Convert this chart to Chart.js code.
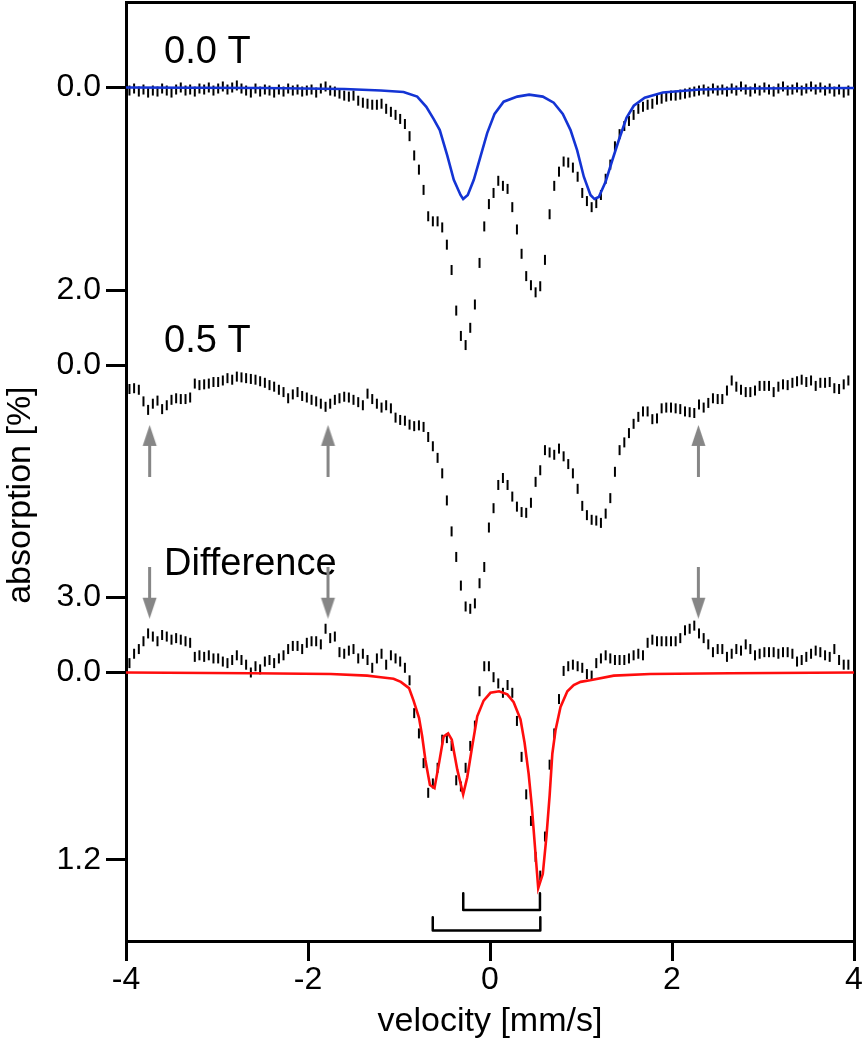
<!DOCTYPE html>
<html>
<head>
<meta charset="utf-8">
<script src="https://cdn.jsdelivr.net/npm/chart.js@4.4.1/dist/chart.umd.min.js"></script>
<style>html,body{margin:0;padding:0;background:#fff}canvas{display:block}</style>
</head>
<body>
<canvas id="c" width="863" height="1050"></canvas>
<script>
// ---------------- data (velocity in mm/s, absorption in %) ----------------
const velocity = [
-3.962,-3.911,-3.859,-3.808,-3.757,-3.705,-3.654,-3.603,-3.552,-3.500,
-3.449,-3.398,-3.346,-3.295,-3.244,-3.193,-3.141,-3.090,-3.039,-2.987,
-2.936,-2.885,-2.833,-2.782,-2.731,-2.680,-2.628,-2.577,-2.526,-2.474,
-2.423,-2.372,-2.320,-2.269,-2.218,-2.167,-2.115,-2.064,-2.013,-1.961,
-1.910,-1.859,-1.807,-1.756,-1.705,-1.654,-1.602,-1.551,-1.500,-1.448,
-1.397,-1.346,-1.294,-1.243,-1.192,-1.141,-1.089,-1.038,-0.987,-0.935,
-0.884,-0.833,-0.781,-0.730,-0.679,-0.628,-0.576,-0.525,-0.474,-0.422,
-0.371,-0.320,-0.268,-0.217,-0.166,-0.115,-0.063,-0.012,0.039,0.091,
0.142,0.193,0.245,0.296,0.347,0.398,0.450,0.501,0.552,0.604,
0.655,0.706,0.758,0.809,0.860,0.911,0.963,1.014,1.065,1.117,
1.168,1.219,1.271,1.322,1.373,1.424,1.476,1.527,1.578,1.630,
1.681,1.732,1.784,1.835,1.886,1.937,1.989,2.040,2.091,2.143,
2.194,2.245,2.297,2.348,2.399,2.450,2.502,2.553,2.604,2.656,
2.707,2.758,2.810,2.861,2.912,2.963,3.015,3.066,3.117,3.169,
3.220,3.271,3.323,3.374,3.425,3.476,3.528,3.579,3.630,3.682,
3.733,3.784,3.836,3.887,3.938];

const absorption00T = [
0.03,0.01,0.04,0.02,0.05,0.03,0.04,0.01,0.03,0.05,
0.02,0.00,0.03,0.02,0.04,0.01,0.02,0.00,0.03,0.01,
-0.01,0.02,0.00,-0.02,0.01,0.03,0.05,0.01,0.04,0.02,
0.03,0.05,0.02,0.04,0.01,0.03,0.02,0.04,0.03,0.02,
0.05,0.01,-0.01,0.03,0.04,0.06,0.08,0.09,0.08,0.13,
0.15,0.16,0.17,0.17,0.16,0.21,0.24,0.27,0.31,0.36,
0.48,0.67,0.81,1.01,1.27,1.32,1.32,1.38,1.55,1.80,
2.20,2.45,2.54,2.37,2.14,1.73,1.37,1.15,1.04,0.92,
0.97,1.00,1.18,1.40,1.64,1.86,1.95,2.02,1.96,1.70,
1.25,0.97,0.83,0.73,0.74,0.79,0.88,1.04,1.12,1.18,
1.14,1.06,0.90,0.76,0.58,0.46,0.38,0.33,0.27,0.21,
0.19,0.17,0.16,0.12,0.11,0.09,0.08,0.08,0.07,0.06,
0.05,0.04,0.03,0.02,0.04,0.01,0.03,0.02,0.04,0.01,
0.03,-0.01,0.02,0.04,0.01,0.03,0.00,0.02,0.04,0.01,
-0.01,0.03,0.02,0.00,0.03,0.01,-0.01,0.02,0.00,0.03,
0.01,0.04,0.02,0.05,0.03];

const absorption05T = [
0.31,0.30,0.32,0.47,0.58,0.50,0.46,0.57,0.52,0.45,
0.43,0.44,0.44,0.42,0.24,0.26,0.25,0.24,0.22,0.22,
0.20,0.17,0.19,0.15,0.16,0.17,0.18,0.19,0.21,0.23,
0.26,0.28,0.32,0.35,0.43,0.38,0.35,0.40,0.42,0.45,
0.47,0.50,0.54,0.50,0.45,0.43,0.41,0.42,0.45,0.48,
0.52,0.37,0.44,0.50,0.55,0.52,0.56,0.68,0.71,0.72,
0.77,0.79,0.78,0.80,0.93,1.05,1.20,1.40,1.75,2.15,
2.48,2.85,3.12,3.15,3.08,2.82,2.61,2.10,1.85,1.55,
1.46,1.55,1.70,1.83,1.90,1.91,1.78,1.51,1.36,1.10,
1.13,1.16,1.08,1.18,1.28,1.40,1.60,1.82,1.94,2.00,
2.01,2.04,1.92,1.72,1.38,1.10,1.00,0.88,0.76,0.67,
0.60,0.60,0.70,0.69,0.56,0.55,0.55,0.56,0.57,0.60,
0.61,0.62,0.51,0.55,0.49,0.43,0.44,0.44,0.33,0.20,
0.28,0.32,0.35,0.35,0.33,0.27,0.27,0.27,0.35,0.28,
0.25,0.26,0.23,0.21,0.19,0.22,0.20,0.27,0.23,0.23,
0.22,0.30,0.31,0.25,0.20];

const absorptionDiff = [
-0.06,-0.12,-0.15,-0.20,-0.25,-0.23,-0.20,-0.24,-0.23,-0.21,
-0.22,-0.21,-0.20,-0.19,-0.10,-0.11,-0.10,-0.11,-0.09,-0.09,
-0.07,-0.06,-0.08,-0.11,-0.08,-0.05,0.00,-0.04,-0.02,-0.07,
-0.08,-0.06,-0.09,-0.11,-0.15,-0.17,-0.17,-0.15,-0.19,-0.20,
-0.20,-0.18,-0.28,-0.22,-0.23,-0.13,-0.12,-0.14,-0.15,-0.09,
-0.12,-0.08,-0.03,-0.09,-0.12,-0.05,-0.11,-0.09,-0.07,-0.03,
0.05,0.26,0.39,0.58,0.77,0.71,0.61,0.43,0.42,0.47,
0.69,0.73,0.61,0.47,0.34,0.12,-0.04,-0.04,0.03,0.07,
0.13,0.08,0.13,0.31,0.54,0.78,0.95,1.18,1.30,1.05,
0.59,0.39,0.17,-0.01,-0.04,-0.05,-0.04,-0.03,0.01,0.02,
-0.06,-0.09,-0.11,-0.09,-0.08,-0.08,-0.08,-0.09,-0.11,-0.12,
-0.11,-0.19,-0.21,-0.20,-0.20,-0.20,-0.20,-0.20,-0.22,-0.27,
-0.28,-0.30,-0.25,-0.22,-0.18,-0.13,-0.15,-0.15,-0.10,-0.12,
-0.15,-0.14,-0.18,-0.15,-0.11,-0.12,-0.13,-0.13,-0.13,-0.12,
-0.13,-0.13,-0.12,-0.07,-0.08,-0.10,-0.12,-0.14,-0.13,-0.11,
-0.10,-0.15,-0.08,-0.05,-0.05];

// fitted curves
const fit00TVelocity = [-4,-2.5,-1.6,-1.2,-0.95,-0.80,-0.70,-0.62,-0.552,-0.47,-0.398,-0.324,-0.295,-0.244,-0.178,-0.104,-0.031,0.05,0.15,0.30,0.43,0.58,0.70,0.80,0.885,0.958,1.031,1.104,1.148,1.196,1.27,1.343,1.415,1.50,1.58,1.70,1.90,2.3,2.8,4];
const fit00T         = [0,0.005,0.015,0.03,0.045,0.09,0.19,0.31,0.42,0.67,0.91,1.06,1.10,1.06,0.91,0.68,0.45,0.26,0.14,0.09,0.07,0.09,0.15,0.26,0.42,0.62,0.88,1.06,1.10,1.08,0.93,0.72,0.52,0.30,0.18,0.10,0.05,0.02,0.01,0.005];

const fitDiffVelocity = [-4,-2.63,-1.75,-1.35,-1.20,-1.06,-0.98,-0.89,-0.84,-0.78,-0.745,-0.71,-0.66,-0.61,-0.56,-0.51,-0.46,-0.42,-0.36,-0.295,-0.25,-0.195,-0.14,-0.07,0.005,0.10,0.19,0.26,0.335,0.38,0.425,0.46,0.50,0.53,0.58,0.62,0.655,0.685,0.72,0.775,0.85,0.92,0.995,1.10,1.36,1.76,2.64,4];
const fitDiff         = [0,0.005,0.01,0.02,0.03,0.04,0.06,0.10,0.18,0.29,0.41,0.56,0.72,0.74,0.58,0.41,0.39,0.43,0.62,0.78,0.67,0.47,0.28,0.18,0.13,0.12,0.14,0.19,0.30,0.45,0.65,0.86,1.16,1.38,1.29,1.05,0.79,0.52,0.37,0.22,0.12,0.08,0.06,0.05,0.02,0.01,0.005,0];

// markers
const arrowVelocity = [-3.74, -1.78, 2.29];
const arrowLevel05T = [1.11, 1.11, 1.11];      // up arrows, 0.5 T panel
const arrowLevelDiff = [-0.51, -0.51, -0.51];  // down arrows, difference panel
const doublet1Velocity = [-0.294, -0.294, 0.549, 0.549];
const doublet1Level    = [1.413, 1.52, 1.52, 1.413];
const doublet2Velocity = [-0.629, -0.629, 0.553, 0.553];
const doublet2Level    = [1.567, 1.652, 1.652, 1.567];

// labels and ticks
const panelNames = ['0.0 T', '0.5 T', 'Difference'];
const panelNameLevel = [-0.24, -0.17, -0.624];
const panelNameVelocity = -3.582;
const panelTicks = [[0, 2.0], [0, 3.0], [0, 1.2]];
const xTicks = [-4, -2, 0, 2, 4];
const xTickLabels = ['-4', '-2', '0', '2', '4'];

// ---------------- layout of stacked panels on one vertical axis ----------------
const PANEL = [ {zero: 0, gain: 1}, {zero: 2.7367, gain: 0.7633}, {zero: 5.7692, gain: 1.5409} ];
const Y_MIN = -0.8432, Y_MAX = 8.4172;
const toAxis = (p, v) => PANEL[p].zero + PANEL[p].gain * v;
const pts = (p, xs, ys) => xs.map((x, i) => ({x: x, y: toAxis(p, ys[i])}));

const yTickValues = [], yTickText = [];
panelTicks.forEach((ts, p) => ts.forEach(t => { yTickValues.push(toAxis(p, t)); yTickText.push(t.toFixed(1)); }));

Chart.defaults.font.family = '"Liberation Sans", Arial, Helvetica, sans-serif';
Chart.defaults.color = '#000';

const ARROW_COLOR = '#868686';
function makeArrow() {
  const c = document.createElement('canvas');
  c.width = 17; c.height = 52;
  const g = c.getContext('2d');
  g.fillStyle = ARROW_COLOR;
  g.beginPath(); g.moveTo(8.5, 0); g.lineTo(15.5, 21); g.lineTo(1.5, 21); g.closePath(); g.fill();
  g.fillRect(7, 20, 3, 32);
  return c;
}
const arrowImg = makeArrow();

const dataStyle = {showLine: false, pointStyle: 'line', pointRotation: 90, pointRadius: 5, pointHoverRadius: 5,
  pointBorderWidth: 2, pointBorderColor: '#000', borderColor: '#000', backgroundColor: '#000', order: 3};
const bracketStyle = {showLine: true, pointRadius: 0, borderColor: '#000', borderWidth: 2.5,
  borderJoinStyle: 'round', borderCapStyle: 'round', tension: 0, order: 1};

const datasets = [
  Object.assign({label: '0.0 T', data: pts(0, velocity, absorption00T)}, dataStyle),
  Object.assign({label: '0.5 T', data: pts(1, velocity, absorption05T)}, dataStyle),
  Object.assign({label: 'Difference', data: pts(2, velocity, absorptionDiff)}, dataStyle),
  {label: 'fit 0.0 T', data: pts(0, fit00TVelocity, fit00T), showLine: true, pointRadius: 0,
   borderColor: '#1434d4', borderWidth: 2.6, tension: 0, order: 0},
  {label: 'fit Difference', data: pts(2, fitDiffVelocity, fitDiff), showLine: true, pointRadius: 0,
   borderColor: '#ff0d0d', borderWidth: 2.6, tension: 0, order: 0},
  {label: 'arrows up', data: pts(1, arrowVelocity, arrowLevel05T), showLine: false, pointStyle: arrowImg,
   pointRotation: 0, pointRadius: 10, order: 2},
  {label: 'arrows down', data: pts(2, arrowVelocity, arrowLevelDiff), showLine: false, pointStyle: arrowImg,
   pointRotation: 180, pointRadius: 10, order: 2},
  Object.assign({label: 'doublet 1', data: pts(2, doublet1Velocity, doublet1Level)}, bracketStyle),
  Object.assign({label: 'doublet 2', data: pts(2, doublet2Velocity, doublet2Level)}, bracketStyle)
];
datasets.forEach(d => { d.xAxisID = 'x'; d.yAxisID = 'y'; });

const panelLabelPlugin = {
  id: 'panelLabels',
  beforeDatasetsDraw(chart) {
    const {ctx, scales} = chart;
    ctx.save();
    ctx.fillStyle = '#000';
    ctx.font = '38px "Liberation Sans", Arial, Helvetica, sans-serif';
    ctx.textAlign = 'left';
    ctx.textBaseline = 'alphabetic';
    panelNames.forEach((name, p) => {
      ctx.fillText(name, scales.x.getPixelForValue(panelNameVelocity), scales.y.getPixelForValue(toAxis(p, panelNameLevel[p])));
    });
    ctx.restore();
  }
};

const axisLine = {display: true, color: '#000', width: 3};
const noOverflow = s => { s.paddingTop = 0; s.paddingBottom = 0; s.paddingLeft = 0; s.paddingRight = 0; };

new Chart(document.getElementById('c'), {
  type: 'scatter',
  data: {datasets},
  options: {
    responsive: false,
    animation: false,
    events: [],
    layout: {autoPadding: false, padding: {top: 2, right: 9, left: 0, bottom: 0}},
    plugins: {legend: {display: false}, tooltip: {enabled: false}},
    scales: {
      x: {
        type: 'linear', position: 'bottom', min: -4, max: 4,
        afterBuildTicks: s => { s.ticks = xTicks.map(v => ({value: v})); },
        afterFit: s => { s.height = 109; noOverflow(s); },
        ticks: {autoSkip: false, maxRotation: 0, padding: 0, color: '#000', font: {size: 32},
                callback: (v, i) => xTickLabels[i]},
        grid: {display: true, drawOnChartArea: false, drawTicks: true, tickLength: 20, tickWidth: 3, tickColor: '#000', lineWidth: 3, color: '#000'},
        border: axisLine,
        title: {display: true, text: 'velocity [mm/s]', color: '#000', font: {size: 34}, padding: {top: 0, bottom: 8}}
      },
      y: {
        type: 'linear', position: 'left', min: Y_MIN, max: Y_MAX, reverse: true,
        afterBuildTicks: s => { s.ticks = yTickValues.map(v => ({value: v})); },
        afterFit: s => { s.width = 126; noOverflow(s); },
        ticks: {autoSkip: false, padding: 5, color: '#000', font: {size: 32},
                callback: (v, i) => yTickText[i]},
        grid: {display: true, drawOnChartArea: false, drawTicks: true, tickLength: 20, tickWidth: 3, tickColor: '#000', lineWidth: 3, color: '#000'},
        border: axisLine,
        title: {display: true, text: 'absorption [%]     ', color: '#000', font: {size: 34}, padding: {top: 0, bottom: 0}}
      },
      xTop: {
        type: 'linear', position: 'top', min: -4, max: 4,
        ticks: {display: false}, grid: {display: false}, border: axisLine,
        afterFit: s => { s.height = 0; noOverflow(s); }
      },
      yRight: {
        type: 'linear', position: 'right', min: Y_MIN, max: Y_MAX, reverse: true,
        ticks: {display: false}, grid: {display: false}, border: axisLine,
        afterFit: s => { s.width = 0; noOverflow(s); }
      }
    }
  },
  plugins: [panelLabelPlugin]
});
</script>
</body>
</html>
